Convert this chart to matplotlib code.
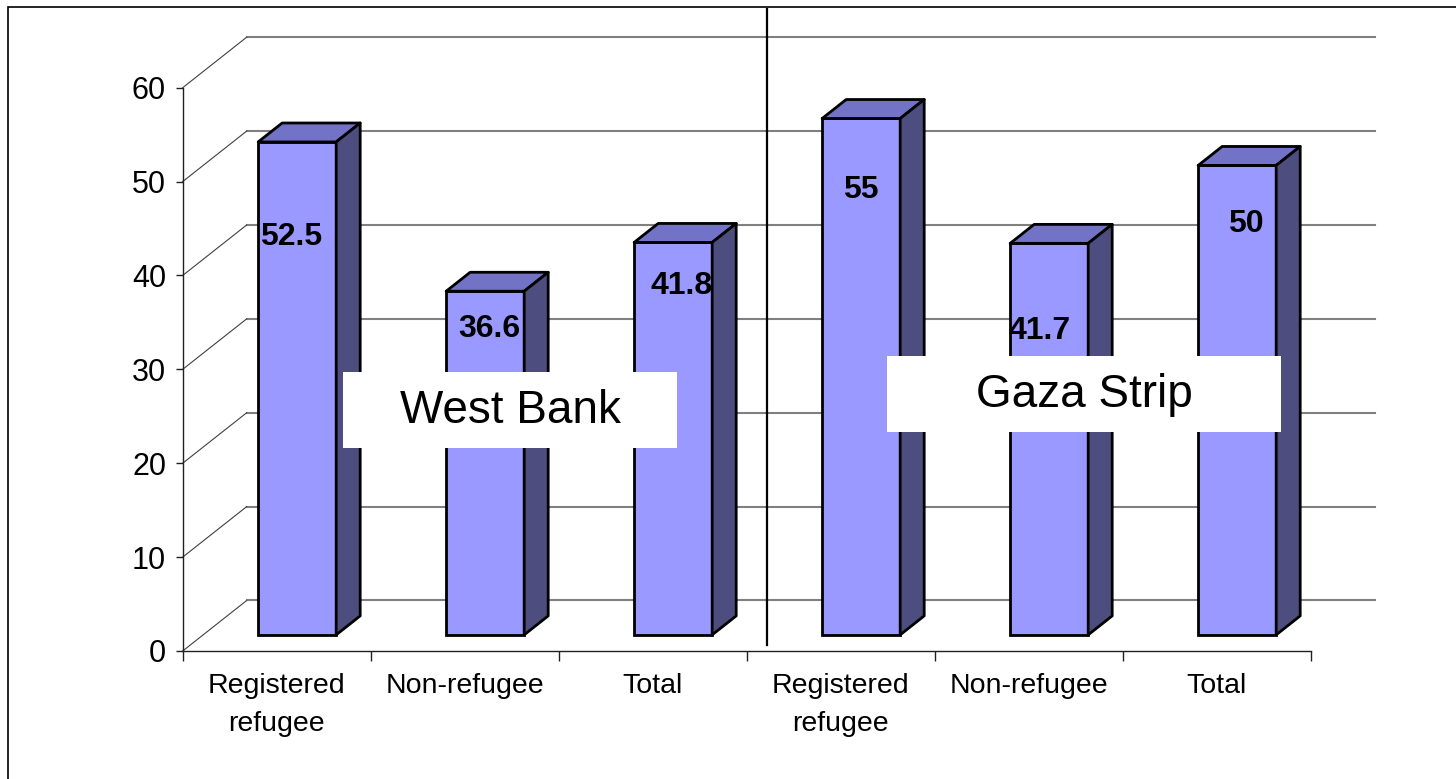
import matplotlib
matplotlib.use("Agg")
import matplotlib.pyplot as plt
from matplotlib.patches import Polygon, Rectangle
from matplotlib.lines import Line2D

plt.rcParams["font.family"] = ["Liberation Sans", "DejaVu Sans"]

# data
categories = ["Registered\nrefugee", "Non-refugee", "Total",
              "Registered\nrefugee", "Non-refugee", "Total"]
values = [52.5, 36.6, 41.8, 55, 41.7, 50]
value_labels = ["52.5", "36.6", "41.8", "55", "41.7", "50"]
y_ticks = [0, 10, 20, 30, 40, 50, 60]
region_names = ["West Bank", "Gaza Strip"]

# layout of the fake 3d box (in data units)
DX, DY = 0.3404, 5.38          # full depth offset of back wall
F0, F1 = 0.32, 0.695           # bar front / back depth fraction
BAR_W = 0.415
FRONT = "#9999FF"
TOP = "#7272C6"
SIDE = "#4D4D80"

# where excel put the data labels (x, baseline y)
label_pos = [(0.576, 43.24), (1.630, 33.44), (2.656, 38.02),
             (3.608, 48.24), (4.560, 33.23), (5.656, 44.62)]
# region boxes: (x0, y0, x1, y1), text centre
region_boxes = [((0.852, 21.62, 2.630, 29.71), (1.741, 25.6)),
                ((3.746, 23.32, 5.842, 31.42), (4.794, 27.3))]

fig = plt.figure(figsize=(14.56, 7.79), dpi=100)
ax = fig.add_axes([0.12548, 0.16432, 0.77473, 0.72311])
ax.set_xlim(0, 6)
ax.set_ylim(0, 60)
ax.patch.set_visible(False)

for s in ["top", "right"]:
    ax.spines[s].set_visible(False)
for s in ["left", "bottom"]:
    ax.spines[s].set_linewidth(1.0)
    ax.spines[s].set_color("#202020")

ax.set_yticks(y_ticks)
ax.set_yticklabels([str(v) for v in y_ticks], fontsize=22)
ax.tick_params(axis="y", length=5, width=1, pad=7, color="#202020")
ax.set_xticks(range(7))
ax.set_xticklabels([])
ax.tick_params(axis="x", which="major", length=7, width=1, color="#202020")
ax.set_xticks([i + 0.5 for i in range(6)], minor=True)
ax.set_xticklabels(categories, minor=True, fontsize=20.5, linespacing=1.6)
ax.tick_params(axis="x", which="minor", length=0, pad=16)

# back wall gridlines + left wall diagonals
for v in y_ticks:
    ax.add_line(Line2D([DX, 6 + DX], [v + DY, v + DY], color="#808080",
                       lw=1.5, clip_on=False, zorder=1))
    ax.add_line(Line2D([0, DX], [v, v + DY], color="#404040",
                       lw=0.8, clip_on=False, zorder=1))

# bars
x_front = [i + (1 - BAR_W) / 2 + F0 * DX for i in range(len(values))]
y0 = F0 * DY
ddx, ddy = (F1 - F0) * DX, (F1 - F0) * DY
ax.bar(x_front, values, width=BAR_W, bottom=y0, align="edge",
       color=FRONT, edgecolor="black", linewidth=2.0, zorder=3, clip_on=False)
for xl, v in zip(x_front, values):
    xr = xl + BAR_W
    yt = y0 + v
    ax.add_patch(Polygon([(xl, yt), (xr, yt), (xr + ddx, yt + ddy), (xl + ddx, yt + ddy)],
                         closed=True, facecolor=TOP, edgecolor="black", lw=2.0,
                         joinstyle="round", zorder=3, clip_on=False))
    ax.add_patch(Polygon([(xr, y0), (xr, yt), (xr + ddx, yt + ddy), (xr + ddx, y0 + ddy)],
                         closed=True, facecolor=SIDE, edgecolor="black", lw=2.0,
                         joinstyle="round", zorder=3, clip_on=False))

for (lx, ly), txt in zip(label_pos, value_labels):
    ax.text(lx, ly, txt, ha="center", va="baseline", fontsize=23,
            fontweight="bold", color="black", zorder=5)

# region boxes
for (box, (tx, ty)), name in zip(region_boxes, region_names):
    x0, b0, x1, b1 = box
    ax.add_patch(Rectangle((x0, b0), x1 - x0, b1 - b0, facecolor="white",
                           edgecolor="none", zorder=6, clip_on=False))
    ax.text(tx, ty, name, ha="center", va="center", fontsize=33, zorder=7)

# separator line between the two regions
ax.add_line(Line2D([3.106, 3.106], [0.64, 68.37], color="black", lw=1.6,
                   clip_on=False, zorder=8))

# outer frame
fig.add_artist(Rectangle((8 / 1456, -0.5), 2, 1.5 - 7 / 779, transform=fig.transFigure,
                         facecolor="none", edgecolor="black", lw=1.2))

fig.savefig("out.png", dpi=100)
